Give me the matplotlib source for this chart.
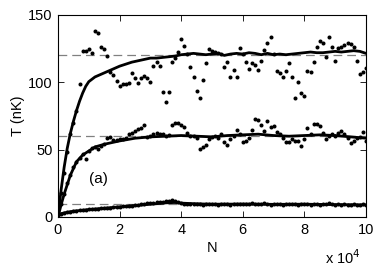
import numpy as np
import matplotlib
matplotlib.use("Agg")
import matplotlib.pyplot as plt

plt.rcParams["font.family"] = ["Liberation Sans", "DejaVu Sans"]

# ---------------------------
# Data (N in units of 10^4)
# ---------------------------
n = np.arange(1, 101) / 10.0

t_high = [18, 33, 48, 62, 70, 79, 99, 123.5, 123.5, 125,
          122, 138, 136.5, 126.5, 124.5, 119.5, 108, 105.5, 101, 97.5,
          99, 99, 99.7, 106.7, 103, 99.7, 103, 104.7, 103, 100.5,
          112, 115, 112, 93, 85.6, 93, 115, 118, 122.7, 132,
          127, 121, 111.6, 103.7, 93.8, 88, 102, 114.6, 125, 123.5,
          122.7, 121.5, 121, 111.6, 115.3, 104.2, 109, 103.7, 125.2, 121,
          115.3, 109.6, 114.6, 112.8, 109, 116, 124, 129.4, 134, 121,
          108.6, 107, 103.7, 108.6, 114.6, 103.7, 88, 100.5, 92.3, 89.8,
          108.4, 108, 115.3, 126, 131, 129.4, 118.6, 134, 126, 115.8,
          125.2, 126, 127.7, 129, 128.2, 126.4, 116, 106, 108, 111]

t_mid = [10, 17, 25, 31, 37, 41, 44, 47, 43, 49,
         51, 52, 50.3, 53, 54, 58.4, 59.6, 57, 57.5, 58,
         58, 59, 62, 62.6, 64, 65, 65.8, 68.3, 59.6, 60,
         61.6, 62.6, 62, 61.6, 60, 61, 68.3, 69.6, 70, 68.3,
         67, 62.6, 60, 60, 59, 50.3, 51.7, 53.5, 57.7, 59.2,
         60, 58.4, 61.6, 55.5, 53.5, 57.7, 60, 64.6, 62, 55.5,
         56.4, 58.4, 64.6, 72.8, 72, 68.3, 64, 71.3, 66.6, 67.6,
         63.3, 61.6, 58.4, 55.5, 55.5, 57.7, 56.4, 56.7, 52.7, 57.7,
         65.8, 62, 68.8, 69, 67.6, 62.6, 57.7, 60, 61.6, 60,
         62.6, 63.8, 61.6, 58.4, 55.2, 56.7, 59, 59.6, 63.3, 56.7]

t_low = [2.0, 3.0, 3.5, 4.0, 4.5, 4.8, 5.0, 5.3, 5.5, 5.8,
         6.0, 6.1, 6.3, 6.5, 6.7, 6.9, 7.0, 7.2, 7.4, 7.5,
         7.8, 8.0, 8.3, 8.5, 8.8, 9.1, 9.4, 9.9, 10.3, 10.1,
         10.6, 10.9, 11.2, 11.0, 11.6, 12.1, 12.6, 12.2, 11.1, 10.5,
         10.0, 9.8, 9.6, 9.9, 9.4, 9.7, 9.2, 9.5, 9.8, 9.3,
         9.6, 9.1, 9.4, 9.9, 9.5, 9.2, 9.7, 10.0, 9.4, 9.6,
         9.3, 9.8, 10.2, 9.6, 9.4, 9.9, 10.1, 9.5, 9.2, 9.7,
         9.9, 9.4, 9.0, 9.5, 9.8, 9.3, 9.6, 9.1, 9.4, 9.7,
         9.3, 9.0, 9.5, 9.8, 9.2, 9.6, 9.9, 10.2, 9.5, 9.1,
         9.4, 9.0, 9.3, 8.8, 9.2, 9.6, 9.0, 8.8, 9.3, 8.9]

# smoothed curves
fit_high_n = [0, 0.1, 0.2, 0.3, 0.4, 0.5, 0.6, 0.7, 0.8, 0.9, 1.0, 1.2, 1.4, 1.6, 1.8,
              2.0, 2.2, 2.4, 2.6, 2.8, 3.0, 3.2, 3.4, 3.6, 3.8, 4.0, 4.2, 4.4, 4.6, 4.8,
              5.0, 5.2, 5.4, 5.6, 5.8, 6.0, 6.2, 6.4, 6.6, 6.8, 7.0, 7.2, 7.4, 7.6, 7.8,
              8.0, 8.2, 8.4, 8.6, 8.8, 9.0, 9.2, 9.4, 9.6, 9.8, 10.0]
fit_high = [0, 20, 37, 51, 62, 71, 79, 86, 92, 97, 100.5, 104, 106, 108, 110,
            112, 113.5, 115, 116, 117, 118, 118, 118.5, 119, 119.5, 120.5, 121, 121.5, 121, 120.5,
            121, 121.5, 120, 121, 121.5, 121, 122, 121.5, 120.5, 121.5, 120.5, 121, 120.5, 121, 121.5,
            122, 122.5, 122, 122, 122.5, 123, 122.5, 123, 123.5, 123, 121.5]

fit_mid_n = [0, 0.1, 0.2, 0.3, 0.4, 0.5, 0.6, 0.8, 1.0, 1.2, 1.5, 2.0, 2.5, 3.0, 3.5,
             4.0, 4.5, 5.0, 5.5, 6.0, 6.5, 7.0, 7.5, 8.0, 8.5, 9.0, 9.5, 10.0]
fit_mid = [0, 9, 17, 24, 31, 36, 41, 46, 49, 52, 54, 56.5, 58.5, 59.5, 60,
           60.5, 60, 59.5, 60.5, 61, 61.5, 60.5, 60, 60.5, 61, 60.5, 59.5, 58.5]

fit_low_n = [0, 0.1, 0.3, 0.5, 1.0, 1.5, 2.0, 2.5, 3.0, 3.5, 3.8, 4.0, 4.5,
             5.0, 6.0, 7.0, 8.0, 9.0, 10.0]
fit_low = [0, 2.5, 3.5, 4.3, 5.5, 6.5, 7.5, 8.5, 9.5, 10.5, 10.8, 10.3, 9.8,
           9.5, 9.6, 9.4, 9.5, 9.2, 9.0]

targets = [120, 60, 10]

# ---------------------------
# Figure
# ---------------------------
fig = plt.figure(figsize=(3.82, 2.66), dpi=100)
ax = fig.add_axes([58 / 382, 49 / 266, 308 / 382, 202 / 266])

for level in targets:
    ax.plot([0, 10], [level, level], color="#808080", linewidth=0.9,
            dashes=(7, 4))

for series in [t_high, t_mid, t_low]:
    ax.plot(n, series, linestyle="none", marker="o", markersize=2.9,
            color="black", markeredgewidth=0)

for fx, fy in [(fit_high_n, fit_high), (fit_mid_n, fit_mid), (fit_low_n, fit_low)]:
    ax.plot(fx, fy, color="black", linewidth=2.0)

ax.set_xlim(0, 10)
ax.set_ylim(0, 150)
ax.set_xticks([0, 2, 4, 6, 8, 10])
ax.set_yticks([0, 50, 100, 150])
ax.tick_params(direction="in", length=4, width=0.6, labelsize=10.5,
               top=True, right=True, pad=4)
for spine in ax.spines.values():
    spine.set_linewidth(0.8)

ax.set_xlabel("N", fontsize=10.5, labelpad=3)
ax.set_ylabel("T (nK)", fontsize=10.5, labelpad=2)
ax.text(1.31, 28, "(a)", fontsize=11, ha="center", va="center")
fig.text(343 / 382, 1 - 258 / 266, r"x 10$^4$", fontsize=10.5, ha="center", va="center")

fig.savefig("out.png", dpi=100)
